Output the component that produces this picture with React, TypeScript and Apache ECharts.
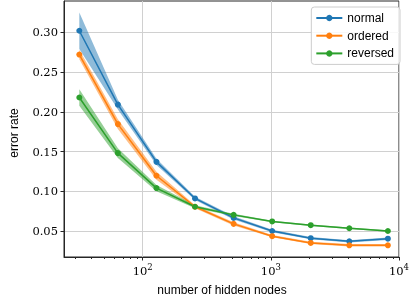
import React, { useEffect, useRef } from "react";
import * as echarts from "echarts";

const hiddenNodes = [32, 64, 128, 256, 512, 1024, 2048, 4096, 8192];
const normalMean = [0.302, 0.209, 0.137, 0.091, 0.0665, 0.05, 0.041, 0.037, 0.0403];
const normalStd = [0.023, 0.006, 0.004, 0.002, 0.002, 0.0015, 0.0015, 0.0015, 0.0015];
const orderedMean = [0.272, 0.1845, 0.1195, 0.0805, 0.059, 0.0435, 0.035, 0.032, 0.032];
const orderedStd = [0.006, 0.006, 0.005, 0.002, 0.002, 0.0015, 0.0015, 0.0015, 0.0015];
const reversedMean = [0.218, 0.148, 0.104, 0.0805, 0.0703, 0.062, 0.0573, 0.0535, 0.05];
const reversedStd = [0.0105, 0.006, 0.004, 0.002, 0.0015, 0.001, 0.001, 0.001, 0.001];
const seriesNames = ["normal", "ordered", "reversed"];
const colors = ["#1f77b4", "#ff7f0e", "#2ca02c"];
const yTicks = [0.05, 0.1, 0.15, 0.2, 0.25, 0.3];
const xMajorTicks = [100, 1000, 10000];
const xMinorTicks = [30, 40, 50, 60, 70, 80, 90, 200, 300, 400, 500, 600, 700, 800, 900, 2000, 3000, 4000, 5000, 6000, 7000, 8000, 9000];

const means = [normalMean, orderedMean, reversedMean];
const stds = [normalStd, orderedStd, reversedStd];

function bandSeries(k: number) {
  const m = means[k];
  const s = stds[k];
  return {
    type: "custom",
    name: seriesNames[k] + " band",
    xAxisIndex: 0,
    yAxisIndex: 0,
    silent: true,
    z: 1,
    data: hiddenNodes.map((x, i) => [x, m[i] - s[i], m[i] + s[i]]),
    renderItem: (params: any, api: any) => {
      if (params.dataIndex !== 0) return null;
      const upper = hiddenNodes.map((x, i) => api.coord([x, m[i] + s[i]]));
      const lower = hiddenNodes.map((x, i) => api.coord([x, m[i] - s[i]])).reverse();
      return {
        type: "polygon",
        shape: { points: upper.concat(lower) },
        style: { fill: colors[k], opacity: 0.5 },
      };
    },
  };
}

function lineSeries(k: number) {
  return {
    type: "line",
    name: seriesNames[k],
    xAxisIndex: 0,
    yAxisIndex: 0,
    z: 3,
    data: hiddenNodes.map((x, i) => [x, means[k][i]]),
    symbol: "circle",
    symbolSize: 6,
    showSymbol: true,
    lineStyle: { color: colors[k], width: 1.5 },
    itemStyle: { color: colors[k] },
  };
}

export default function App() {
  const ref = useRef<HTMLDivElement>(null);
  useEffect(() => {
    if (!ref.current) return;
    const chart = echarts.init(ref.current, undefined, { renderer: "svg" });
    const serif = "DejaVu Serif";
    const sans = "Liberation Sans";
    chart.setOption({
      animation: false,
      grid: {
        left: 64,
        right: 10.5,
        top: 1,
        bottom: 49,
        show: true,
        borderColor: "#262626",
        borderWidth: 1,
        backgroundColor: "transparent",
      },
      legend: {
        data: seriesNames,
        orient: "vertical",
        right: 12,
        top: 7,
        padding: [4, 6, 4, 4],
        itemWidth: 26,
        itemHeight: 8,
        itemGap: 3.7,
        backgroundColor: "rgba(255,255,255,0.85)",
        borderColor: "#cccccc",
        borderWidth: 1,
        borderRadius: 3,
        textStyle: { fontFamily: sans, fontSize: 12, lineHeight: 14, color: "#000" },
      },
      xAxis: [
        {
          type: "log",
          position: "bottom",
          min: 24.3,
          max: 10000,
          axisLine: { show: true, lineStyle: { color: "#262626", width: 1 } },
          axisTick: { show: true, customValues: xMajorTicks, length: 3.5, inside: false, lineStyle: { color: "#262626" } },
          splitLine: { show: true, lineStyle: { color: "#d0d0d0", width: 1 } },
          axisLabel: {
            customValues: xMajorTicks,
            margin: 5,
            formatter: (v: number) => `{b|10}{s|${Math.round(Math.log10(v))}}`,
            rich: {
              b: { fontFamily: serif, fontSize: 11.5, color: "#000", lineHeight: 15, verticalAlign: "bottom" },
              s: { fontFamily: serif, fontSize: 8.5, color: "#000", lineHeight: 9, verticalAlign: "top" },
            },
          },
        },
        {
          type: "log",
          position: "bottom",
          min: 24.3,
          max: 10000,
          axisLine: { show: false },
          axisTick: { show: true, customValues: xMinorTicks, length: 2, inside: false, lineStyle: { color: "#262626" } },
          splitLine: { show: false },
          axisLabel: { show: false },
        },
      ],
      yAxis: {
        type: "value",
        min: 0.0173,
        max: 0.3394,
        axisLine: { show: true, lineStyle: { color: "#262626", width: 1 } },
        axisTick: { show: true, customValues: yTicks, length: 3.5, lineStyle: { color: "#262626" } },
        splitLine: { show: true, lineStyle: { color: "#d0d0d0", width: 1 } },
        axisLabel: {
          customValues: yTicks,
          margin: 6,
          fontFamily: serif,
          fontSize: 11.5,
          color: "#000",
          formatter: (v: number) => v.toFixed(2),
        },
      },
      graphic: [
        {
          type: "text",
          x: 222,
          y: 290,
          style: { text: "number of hidden nodes", fontFamily: sans, fontSize: 12, fill: "#000", align: "center", verticalAlign: "middle" },
        },
        {
          type: "text",
          x: 13.5,
          y: 133,
          rotation: Math.PI / 2,
          style: { text: "error rate", fontFamily: sans, fontSize: 12, fill: "#000", align: "center", verticalAlign: "middle" },
        },
      ],
      series: [bandSeries(0), bandSeries(1), bandSeries(2), lineSeries(0), lineSeries(1), lineSeries(2)],
    });
    return () => chart.dispose();
  }, []);
  return <div ref={ref} style={{ position: "fixed", left: 0, top: 0, width: 412, height: 306 }} />;
}
